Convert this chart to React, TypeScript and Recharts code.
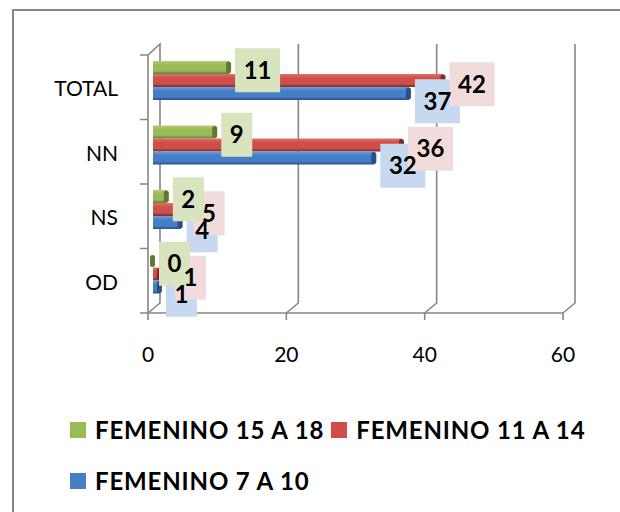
import React from "react";
import { BarChart, Bar, XAxis, YAxis, CartesianGrid, ReferenceDot } from "recharts";

const categories = ["TOTAL", "NN", "NS", "OD"];
const fem15a18 = [11, 9, 2, 0];
const fem11a14 = [42, 36, 5, 1];
const fem7a10 = [37, 32, 4, 1];
const xTicks = [0, 20, 40, 60];

const FONT = "Lato, 'Open Sans', sans-serif";
const AXIS = "#868686";

const CHART_W = 620;
const CHART_H = 512;
const MARGIN = { top: 55, right: 57, bottom: 139, left: 0 };
const Y_AXIS_W = 148;
const X_MAX = xTicks[xTicks.length - 1];
const PX_PER_UNIT = (CHART_W - MARGIN.right - MARGIN.left - Y_AXIS_W) / X_MAX;
const BAR = 13;

// top to bottom inside each group
const SERIES = [
  { key: "f15", label: "FEMENINO 15 A 18", values: fem15a18, color: "#9bbb59", light: "#b2cf72", dark: "#5f7a2e", box: "#d7e4bd", dy: -17 },
  { key: "f11", label: "FEMENINO 11 A 14", values: fem11a14, color: "#cf4e4a", light: "#e2706c", dark: "#7a2a28", box: "#f2dcdb", dy: -3 },
  { key: "f7", label: "FEMENINO 7 A 10", values: fem7a10, color: "#467ec6", light: "#6b9fe0", dark: "#2a4f86", box: "#c6d9f1", dy: 14 },
];

const data = categories.map((name, i) => ({
  name,
  f15: fem15a18[i],
  f11: fem11a14[i],
  f7: fem7a10[i],
}));

type S = (typeof SERIES)[number];

const boxWidth = (v: number) => (String(v).length > 1 ? 45 : 31);

// push a label to the right when its number would sit on top of an earlier one
const shifts: Record<string, number[]> = {};
SERIES.forEach((s) => (shifts[s.key] = []));
categories.forEach((_, i) => {
  const placed: { l: number; r: number; t: number; b: number }[] = [];
  SERIES.forEach((s) => {
    const v = s.values[i];
    const tw = String(v).length * 13;
    let c = v * PX_PER_UNIT + 11 + boxWidth(v) / 2;
    let sh = 0;
    const t = s.dy - 8.5;
    const b = s.dy + 8.5;
    placed.forEach((q) => {
      const l = c - tw / 2;
      const r = c + tw / 2;
      if (t < q.b && b > q.t && l < q.r && r > q.l) {
        const d = q.r + 3 - l;
        sh += d;
        c += d;
      }
    });
    placed.push({ l: c - tw / 2, r: c + tw / 2, t, b });
    shifts[s.key][i] = sh;
  });
});

// fake 3d bar, nudged back into the "depth" of the plot
const Bar3D = (p: any) => {
  const s: S = p.s;
  const w = Math.max(p.width || 0, 0);
  const bx = p.x + 5;
  const by = p.y + p.height / 2 - BAR / 2 - 7;
  return (
    <g>
      <rect x={bx} y={by} width={w} height={BAR} fill={`url(#grad-${s.key})`} />
      <rect x={bx + w - 3} y={by + 0.5} width={5} height={BAR - 1} rx={2.5} fill={s.dark} />
    </g>
  );
};

const LabelBox = ({ cx, cy, i, s }: { cx: number; cy: number; i: number; s: S }) => (
  <rect x={cx + 11 + shifts[s.key][i]} y={cy + s.dy - 22} width={boxWidth(s.values[i])} height={44} fill={s.box} />
);

// text goes in a second pass so no box ever hides a number
const LabelText = ({ cx, cy, i, s }: { cx: number; cy: number; i: number; s: S }) => (
  <text
    x={cx + 11 + shifts[s.key][i] + boxWidth(s.values[i]) / 2}
    y={cy + s.dy + 8.5}
    textAnchor="middle"
    fontSize={24}
    fontWeight={700}
    fontFamily={FONT}
    fill="#000"
  >
    {s.values[i]}
  </text>
);

const CatTick = (p: any) => {
  const { x, y, payload, index } = p;
  const half = payload.offset || 32;
  return (
    <g>
      <line x1={x - 8} x2={x} y1={y - half} y2={y - half} stroke={AXIS} strokeWidth={1.5} />
      {index === categories.length - 1 && (
        <line x1={x - 8} x2={x} y1={y + half} y2={y + half} stroke={AXIS} strokeWidth={1.5} />
      )}
      <text x={x - 30} y={y + 9} textAnchor="end" fontSize={21} fontFamily={FONT} fill="#000">
        {payload.value}
      </text>
    </g>
  );
};

// back wall line plus the little diagonal down to the floor
const GridLine = (p: any) => {
  const { x1, y1, y2, index } = p;
  const top = Math.min(y1, y2);
  const bottom = Math.max(y1, y2);
  const bx = x1 + 12;
  let d = `M${bx},${top - 11} L${bx},${bottom - 10} L${x1},${bottom}`;
  if (index === 0) d = `M${x1},${top} L${bx},${top - 11} L${bx},${bottom - 10} L${x1},${bottom}`;
  return <path key={`g${index}`} d={d} fill="none" stroke={AXIS} strokeWidth={1.6} />;
};

function Legend() {
  const rows = [SERIES.slice(0, 2), SERIES.slice(2)];
  return (
    <div style={{ position: "absolute", left: 70, top: 418, fontFamily: FONT }}>
      {rows.map((row, r) => (
        <div key={r} style={{ display: "flex", alignItems: "center", height: 24, marginBottom: 27 }}>
          {row.map((s) => (
            <div key={s.key} style={{ display: "flex", alignItems: "center", marginRight: 7 }}>
              <span style={{ width: 16, height: 16, background: s.color, marginRight: 9 }} />
              <span style={{ fontSize: 24, fontWeight: 700, lineHeight: "24px", letterSpacing: 0.85, color: "#000", whiteSpace: "nowrap" }}>
                {s.label}
              </span>
            </div>
          ))}
        </div>
      ))}
    </div>
  );
}

export default function App() {
  const labelOrder = [...SERIES].reverse();
  return (
    <div style={{ position: "absolute", left: 0, top: 0, width: CHART_W, height: CHART_H, overflow: "hidden", background: "#fff" }}>
      <div
        style={{
          position: "absolute",
          left: 12,
          top: 9,
          width: 700,
          height: 600,
          border: `2px solid ${AXIS}`,
        }}
      />
      <div style={{ position: "absolute", left: 0, top: 0 }}>
        <BarChart
          width={CHART_W}
          height={CHART_H}
          data={data}
          layout="vertical"
          margin={MARGIN}
          barSize={BAR}
          barGap={0}
        >
          <defs>
            {SERIES.map((s) => (
              <linearGradient key={s.key} id={`grad-${s.key}`} x1="0" y1="0" x2="0" y2="1">
                <stop offset="0%" stopColor={s.light} />
                <stop offset="30%" stopColor={s.color} />
                <stop offset="75%" stopColor={s.color} />
                <stop offset="100%" stopColor={s.dark} />
              </linearGradient>
            ))}
          </defs>
          <CartesianGrid horizontal={false} vertical={GridLine} />
          <XAxis
            type="number"
            domain={[0, X_MAX]}
            ticks={xTicks}
            height={60}
            tickSize={7}
            tickMargin={27}
            axisLine={{ stroke: AXIS, strokeWidth: 1.6 }}
            tickLine={{ stroke: AXIS, strokeWidth: 1.6 }}
            tick={{ fill: "#000", fontSize: 21, fontFamily: FONT }}
          />
          <YAxis
            type="category"
            dataKey="name"
            width={Y_AXIS_W}
            interval={0}
            tickSize={0}
            tickMargin={0}
            tickLine={false}
            axisLine={{ stroke: AXIS, strokeWidth: 1.6 }}
            tick={<CatTick />}
          />
          {SERIES.map((s) => (
            <Bar
              key={s.key}
              dataKey={s.key}
              name={s.label}
              fill={s.color}
              barSize={BAR}
              isAnimationActive={false}
              shape={(p: any) => <Bar3D {...p} s={s} />}
            />
          ))}
          {labelOrder.map((s) =>
            categories.map((c, i) => (
              <ReferenceDot
                key={`box-${s.key}-${c}`}
                x={s.values[i]}
                y={c}
                r={0}
                ifOverflow="visible"
                shape={(p: any) => <LabelBox cx={p.cx} cy={p.cy} i={i} s={s} />}
              />
            ))
          )}
          {labelOrder.map((s) =>
            categories.map((c, i) => (
              <ReferenceDot
                key={`txt-${s.key}-${c}`}
                x={s.values[i]}
                y={c}
                r={0}
                ifOverflow="visible"
                shape={(p: any) => <LabelText cx={p.cx} cy={p.cy} i={i} s={s} />}
              />
            ))
          )}
        </BarChart>
      </div>
      <Legend />
    </div>
  );
}
